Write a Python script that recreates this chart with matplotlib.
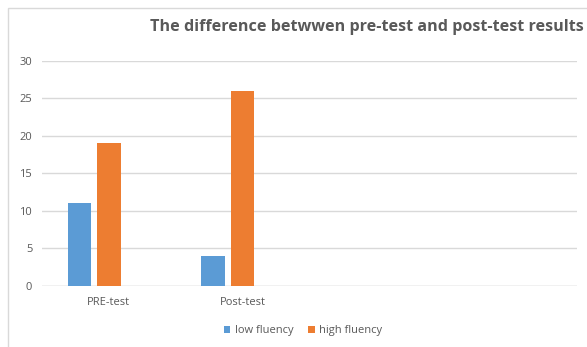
import matplotlib.pyplot as plt
import numpy as np
from matplotlib.patches import Rectangle

# values
categories = ["PRE-test", "Post-test", "", ""]
low_fluency = [11, 4]
high_fluency = [19, 26]
series_names = ["low fluency", "high fluency"]
yticks = [0, 5, 10, 15, 20, 25, 30]

title = "The difference betwwen pre-test and post-test results"

blue = "#5B9BD5"
orange = "#ED7D31"
grey_text = "#595959"
grid_col = "#D9D9D9"

plt.rcParams['font.family'] = ['Open Sans', 'DejaVu Sans']

W, H = 587, 347
fig = plt.figure(figsize=(W / 100, H / 100), dpi=100)

# chart border (right and bottom fall outside the canvas)
fig.patches.append(Rectangle((8 / W, -0.1), 1.2, (H - 8) / H + 0.1,
                             transform=fig.transFigure, fill=False,
                             edgecolor=grid_col, linewidth=1.0))

ax = fig.add_axes([42 / W, 61 / H, (577 - 42) / W, (286.3 - 61) / H])

x = np.arange(len(categories))
bw = 0.176
step = 0.221
ax.bar(x[:len(low_fluency)] - step, low_fluency, width=bw, color=blue,
       label=series_names[0], zorder=3)
ax.bar(x[:len(high_fluency)], high_fluency, width=bw, color=orange,
       label=series_names[1], zorder=3)

ax.set_xlim(-0.5, len(categories) - 0.5)
ax.set_ylim(0, 30)
ax.set_yticks(yticks)
ax.set_xticks(x)
ax.set_xticklabels(categories)
ax.grid(axis='y', color=grid_col, linewidth=1.0, zorder=0)
for s in ax.spines.values():
    s.set_visible(False)
ax.axhline(0, color=grid_col, linewidth=1.0, zorder=1)
ax.tick_params(axis='both', length=0, labelsize=8, colors=grey_text)
ax.tick_params(axis='y', pad=7)
ax.tick_params(axis='x', pad=8)

fig.text(150 / W, 1 - 27 / H, title, fontsize=11.6, fontweight='bold',
         color=grey_text, ha='left', va='center')

leg = fig.legend(loc='center', bbox_to_anchor=(303 / W, 1 - 330.5 / H),
                 ncol=2, frameon=False, fontsize=8, handlelength=0.6,
                 handleheight=0.6, handletextpad=0.4, columnspacing=1.3)
for t in leg.get_texts():
    t.set_color(grey_text)

fig.savefig("out.png", dpi=100)
